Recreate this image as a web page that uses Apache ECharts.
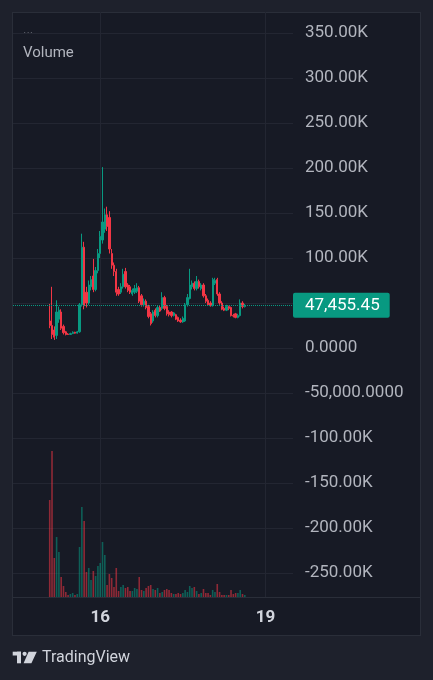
<!DOCTYPE html>
<html><head><meta charset="utf-8">
<script src="https://cdn.jsdelivr.net/npm/echarts@6/dist/echarts.min.js"></script>
<style>
html,body{margin:0;padding:0;background:#1e212c;width:433px;height:680px;overflow:hidden}
#panel{position:absolute;left:12px;top:12px;width:407px;height:622px;background:#171a25;border:1px solid #2a2e39}
#chart{position:absolute;left:0;top:0;width:433px;height:680px}
</style></head><body>
<div id="panel"></div><div id="chart"></div>
<script>
// ---- data (hourly candles) ----
const opens = [30000,25000,20000,14000,32000,40000,24000,18000,15500,15000,
16000,17500,16500,18000,48000,112000,62000,50000,68000,80000,
65000,86000,105000,120000,132000,148000,145000,105000,92000,85000,
65000,62000,68000,85000,70000,68000,60000,62000,63000,67000,
58000,48000,52000,46000,38000,30000,42000,36000,45000,44000,
56000,46000,40000,40000,36000,37000,34000,31000,29000,30000,
48000,55000,68000,72000,66000,74000,66000,70000,58000,53000,
50000,47000,72000,76000,60000,50000,44000,42000,46000,45000,
36000,38000,34000,36000,50000,46000];
const closes = [25000,15000,12000,40000,42000,22000,17000,15000,15000,16000,
17500,16500,18000,48000,112000,47000,50000,70000,76000,65000,
86000,105000,124000,140000,148000,135000,110000,92000,85000,62000,
60000,68000,82000,68000,64000,62000,64000,66000,67000,52000,
48000,52000,45000,35000,27000,40000,36000,45000,41000,56000,
44000,38000,37000,36000,39000,32000,30000,29000,33000,48000,
56000,70000,72000,66000,74000,68000,70000,58000,52000,48000,
47000,76000,75000,60000,50000,43000,42000,46000,44000,36000,
35500,34000,36000,50000,46000,47455.45];
const highs = [49000,68000,24000,53000,46000,43000,26000,19000,16500,17000,
18500,18000,19000,50000,127000,118000,68000,75000,80000,99000,
90000,110000,130000,201000,155000,157000,152000,110000,95000,88000,
68000,72000,88000,89000,72000,70000,66000,70000,72000,69000,
60000,55000,54000,48000,40000,42000,44000,47000,47000,62000,
58000,48000,42000,41000,40000,38000,35000,33000,35000,50000,
60000,88000,75000,74000,80000,76000,72000,72000,60000,55000,
52000,78000,78000,78000,62000,52000,46000,48000,47000,46000,
38000,39000,38000,54000,52000,49000];
const lows = [22000,10000,9000,10000,28000,20000,15000,14000,14500,14500,
15500,16000,16000,17000,46000,43000,45000,48000,64000,62000,
63000,83000,100000,116000,128000,130000,105000,88000,80000,58000,
58000,60000,66000,66000,62000,60000,58000,60000,61000,50000,
46000,46000,43000,33000,25000,28000,34000,34000,40000,42000,
42000,36000,35000,34000,35000,31000,29000,28000,28000,29000,
46000,54000,65000,64000,64000,66000,64000,56000,50000,47000,
46000,46000,70000,58000,48000,42000,41000,41000,42000,35000,
34000,33000,33000,35000,44000,45000];
const volumes = [97000,146000,39000,60000,45000,20000,11000,5000,2000,3000,
4000,2000,3000,50000,90000,76000,25000,29000,17000,26000,
21000,31000,34000,55000,42000,12000,23000,19000,10000,29000,
6000,10000,12000,9000,10000,6000,6000,9000,8000,20000,
7000,6000,9000,11000,12000,8000,7000,9000,4000,5000,
7000,8000,7000,4000,3000,3000,4000,3000,4000,7000,
5000,11000,9000,10000,6000,3000,4000,8000,4000,4000,
2000,7000,5000,13000,5000,2000,2000,2000,2000,7000,
3000,4000,4000,7000,3000,2000];

// time axis: hours relative to day 15 00:00
const firstHour = -14, lastHour = 108, firstCandleHour = 2;
const timeLabelDays = ['16', '19'];
const categories = [];
for (let h = firstHour; h <= lastHour; h++) {
  const day = 15 + Math.floor(h / 24);
  const hh = ((h % 24) + 24) % 24;
  categories.push(day + ' ' + String(hh).padStart(2, '0') + ':00');
}
const candleCategory = i => categories[i + firstCandleHour - firstHour];

// price scale ticks
const priceGridValues = [-250000,-200000,-150000,-100000,-50000,0,50000,100000,150000,200000,250000,300000,350000];
const priceTickLabels = ['-250.00K','-200.00K','-150.00K','-100.00K','-50,000.0000','0.0000','','100.00K','150.00K','200.00K','250.00K','300.00K','350.00K'];
const priceMin = -276667, priceMax = 373333;
const volumeMax = 585000;

const lastClose = closes[closes.length - 1];
const UP = '#089981', DOWN = '#f23645';

const isDayTick = (idx, val) => {
  const [d, t] = String(val).split(' ');
  return t === '00:00' && timeLabelDays.includes(d);
};

const candleData = opens.map((o, i) => [candleCategory(i), o, closes[i], lows[i], highs[i]]);
const volumeData = volumes.map((v, i) => ({
  value: [candleCategory(i), v],
  itemStyle: {color: closes[i] >= opens[i] ? 'rgba(8,153,129,0.55)' : 'rgba(242,54,69,0.55)'}
}));

const chart = echarts.init(document.getElementById('chart'), null, {renderer: 'canvas'});
chart.setOption({
  animation: false,
  textStyle: {fontFamily: 'Roboto'},
  grid: {left: 13, right: 140, top: 12, bottom: 83},
  xAxis: {
    type: 'category', data: categories, boundaryGap: false,
    axisLine: {show: false}, axisTick: {show: false},
    axisLabel: {interval: isDayTick, formatter: v => v.split(' ')[0], color: '#d1d4dc',
      fontSize: 17, fontWeight: 'bold', margin: 12, fontFamily: 'Roboto'},
    splitLine: {show: true, interval: isDayTick, lineStyle: {color: '#232632', width: 1}}
  },
  yAxis: [{
    type: 'value', position: 'right', min: priceMin, max: priceMax,
    axisLine: {show: false},
    axisTick: {show: false, customValues: priceGridValues},
    axisLabel: {customValues: priceGridValues,
      formatter: v => { const k = priceGridValues.indexOf(Math.round(v)); return k >= 0 ? priceTickLabels[k] : ''; },
      color: '#b2b5be', fontSize: 17, margin: 12, padding: [4, 0, 0, 0], fontFamily: 'Roboto'},
    splitLine: {show: true, lineStyle: {color: '#232632', width: 1}}
  }, {
    type: 'value', min: 0, max: volumeMax, show: false
  }],
  series: [{
    type: 'bar', name: 'Volume', xAxisIndex: 0, yAxisIndex: 1,
    data: volumeData, barWidth: 1.6, encode: {x: 0, y: 1}
  }, {
    type: 'candlestick', xAxisIndex: 0, yAxisIndex: 0,
    data: candleData, encode: {x: 0, y: [1, 2, 3, 4]},
    barWidth: 1.8,
    itemStyle: {color: UP, color0: DOWN, borderColor: UP, borderColor0: DOWN, borderWidth: 1},
    markLine: {
      symbol: ['none', 'none'], silent: true, animation: false,
      data: [{yAxis: lastClose}],
      lineStyle: {color: UP, type: 'dotted', width: 1},
      label: {show: true, position: 'end', distance: 0,
        formatter: () => lastClose.toLocaleString('en-US', {minimumFractionDigits: 2, maximumFractionDigits: 2}),
        backgroundColor: UP, color: '#ffffff', fontSize: 17, lineHeight: 18,
        padding: [4, 10, 3, 12], borderRadius: 2, fontFamily: 'Roboto'}
    }
  }],
  graphic: [
    {type: 'text', x: 23, y: 31, style: {text: '...', fill: '#b2b5be', font: '13px Roboto', verticalAlign: 'middle'}},
    {type: 'text', x: 23, y: 53.5, style: {text: 'Volume', fill: '#b2b5be', font: '15px Roboto', verticalAlign: 'middle'}},
    {type: 'line', shape: {x1: 12, y1: 597.5, x2: 420, y2: 597.5}, style: {stroke: '#2a2e39', lineWidth: 1}},
    {type: 'rect', shape: {x: 12.7, y: 651.7, width: 8.3, height: 3.8}, style: {fill: '#d1d4dc'}},
    {type: 'rect', shape: {x: 17, y: 651.7, width: 4, height: 11.6}, style: {fill: '#d1d4dc'}},
    {type: 'circle', shape: {cx: 24.6, cy: 653.8, r: 2.1}, style: {fill: '#d1d4dc'}},
    {type: 'polygon', shape: {points: [[28.6, 651.7], [36.8, 651.7], [31.4, 663.3], [23.6, 663.3]]}, style: {fill: '#d1d4dc'}},
    {type: 'text', x: 42, y: 658, style: {text: 'TradingView', fill: '#d1d4dc', font: '16px Roboto', verticalAlign: 'middle'}}
  ]
});
</script></body></html>
